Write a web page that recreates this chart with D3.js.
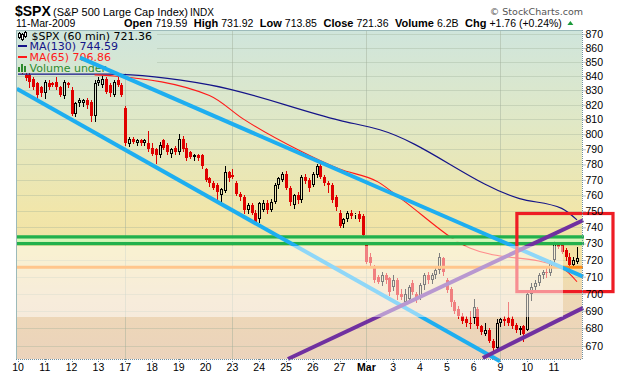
<!DOCTYPE html>
<html>
<head>
<meta charset="utf-8">
<script src="https://cdn.jsdelivr.net/npm/d3@7"></script>
<style>
body { margin: 0; background: #fff; }
</style>
</head>
<body>
<div id="chart"></div>
<script>
// one label per trading day, first bar of the day
var dayLabels = ["10", "11", "12", "13", "17", "18", "19", "20", "23", "24", "25", "26", "27",
    "Mar", "3", "4", "5", "6", "9", "10", "11"];
var gridDays = [4, 8, 13, 18];
var yTicks = [670, 680, 690, 700, 710, 720, 730, 740, 750, 760, 770, 780, 790, 800,
    810, 820, 830, 840, 850, 860, 870];

// 60 min bars, 7 per day
var opens = [
    866, 864, 841, 841, 838, 835, 832,
    828, 835, 835, 836, 832, 826, 835,
    830, 814, 821, 821, 823, 822, 812,
    835, 834, 838, 834, 827, 837, 834,
    818, 793.5, 797, 794, 796, 794, 794,
    791, 790, 786, 796, 793, 787, 791,
    788, 797, 791, 788, 785, 786, 786,
    777, 771, 768, 767, 760, 763, 775,
    773, 768, 761, 759, 751, 754, 749,
    745, 751, 755, 751, 756, 767, 770,
    774, 765, 754, 760, 757, 772, 770,
    767, 773, 779, 772, 768, 767, 759,
    749, 742, 745, 749, 748, 748, 747,
    729, 722, 716, 710, 707, 711, 709,
    704, 708, 700, 695, 697, 706, 700,
    698, 705, 711, 708, 711, 714, 721,
    708, 703, 695, 691, 687, 685, 683,
    686, 691, 681, 677, 679, 673, 669,
    683, 685, 686, 685, 682, 679, 681,
    679, 700, 704, 706, 711, 713, 712,
    720, 730, 729, 726, 722, 717, 719
];
var highs = [
    868, 866, 843, 842, 839, 836, 833,
    837, 837, 836, 839, 833, 837, 836,
    832, 822, 825, 824, 825, 823, 837,
    839, 840, 839, 835, 837, 839, 835,
    819, 798, 798, 797, 797, 797, 802,
    794, 791, 795, 797, 794, 791, 792,
    800, 799, 794, 789, 787, 787, 787,
    778, 772, 769, 768, 765, 779, 776,
    777, 769, 762, 760, 755, 755, 751,
    756, 757, 757, 758, 768, 772, 775,
    776, 766, 761, 762, 773, 774, 771,
    775, 780, 780, 773, 769, 768, 760,
    751, 746, 750, 751, 749, 750, 748,
    730, 724, 717, 711, 713, 712, 710,
    711, 709, 703, 703, 705, 708, 701,
    706, 712, 713, 712, 716, 724, 722,
    709, 704, 696, 693, 689, 687, 690,
    697, 692, 682, 683, 680, 674, 685,
    686, 687, 695, 687, 683, 681, 682,
    701, 706, 708, 712, 714, 715, 720,
    732, 731, 730, 727, 724, 722, 728
];
var lows = [
    862, 842, 837, 832, 831, 825, 826,
    825, 831, 833, 831, 826, 825, 832,
    813, 812, 819, 819, 818, 809, 809,
    834, 832, 828, 826, 826, 833, 826,
    793, 792, 794, 793, 793, 793, 789,
    786, 781, 785, 790, 787, 785, 787,
    787, 789, 783, 784, 783, 783, 778,
    769, 766, 764, 758, 756, 762, 769,
    771, 760, 757, 749, 749, 748, 742,
    743, 750, 749, 750, 755, 765, 769,
    764, 754, 752, 755, 756, 768, 763,
    766, 772, 771, 767, 762, 756, 751,
    740, 740, 744, 746, 746, 744, 734,
    718, 716, 707, 706, 705, 706, 699,
    702, 697, 697, 694, 696, 700, 695,
    697, 703, 706, 706, 709, 712, 711,
    701, 693, 689, 686, 683, 681, 680,
    683, 680, 677, 676, 672, 667, 667,
    681, 682, 682, 680, 678, 677, 673,
    679, 696, 701, 705, 709, 710, 711,
    719, 727, 724, 720, 714, 716, 718
];
var closes = [
    864, 845, 838.5, 836, 832, 827, 828,
    836, 832, 834, 832, 827, 836, 833.5,
    814, 821, 823, 823, 820, 812, 835,
    837, 838, 829, 828, 836, 834, 827,
    794, 797, 795, 796, 794, 796, 790,
    787, 786.5, 793, 791, 788, 790, 788,
    797, 790, 784, 785, 786, 784.5, 779,
    770, 768, 765, 762, 764, 775, 771,
    772, 761, 759, 751, 754, 749, 743.5,
    755, 755, 751, 756, 767, 771, 773.5,
    765, 756, 760, 757, 772, 769, 764.5,
    774, 779, 772, 768, 767, 757, 752.8,
    741, 745, 749, 747, 748.5, 745, 735,
    719, 718, 708, 707, 711, 708, 701,
    708, 699, 698, 700, 704, 701, 696.5,
    705, 711, 708, 711, 714, 722, 713,
    702, 695, 690, 687, 684, 683, 682.5,
    692, 681, 678, 679, 673, 669, 683,
    685, 684, 683, 681, 679, 680, 676.5,
    700, 704, 706, 711, 713, 712, 719.5,
    730, 728, 725, 722, 717, 720, 721.4
];

// moving averages as [bar, value]
var ma130 = [[0, 841.3], [24, 841.3], [50, 833.8], [84, 809.4], [94.5, 803], [131, 758], [142, 751.8], [146, 744.6]];
var ma65 = [[20, 840.8], [25, 840], [50, 826.4], [59, 810], [73, 789.8], [84, 777], [94, 768.7], [100, 758], [118, 727.3], [142, 715.3], [146, 707]];

// hand drawn trend lines [bar, price]
var cyanLines = [[[16.2, 853], [147.6, 710]], [[-0.3, 831], [125.9, 661.5]]];
var purpleLines = [[[70.5, 662.7], [147.6, 744.4]], [[121.4, 663.3], [147.6, 691.7]]];
var greenLevels = [734, 730];
var orangeLevel = 715.6;
var redBox = [[130.3, 748.6], [155.4, 701.2]];

var width = 620;
var height = 376;
var plotL = 16, plotR = 582, plotT = 30, plotB = 359;

var svg = d3.select("#chart")
    .append("svg")
    .attr("width", width)
    .attr("height", height)
    .style("font-family", "'Liberation Sans', Arial, sans-serif");

var x = d3.scaleLinear().domain([0, 146]).range([18, 577]);
var y = d3.scaleLog().domain([662.7, 873]).range([plotB, plotT]);

var defs = svg.append("defs");
var grad = defs.append("linearGradient")
    .attr("id", "bgGrad")
    .attr("gradientUnits", "userSpaceOnUse")
    .attr("x1", 0).attr("y1", plotT).attr("x2", 0).attr("y2", plotB);
[[0, "#cfe5dc"], [0.28, "#e0e8c6"], [0.55, "#f1e6aa"], [0.68, "#f2e2a4"], [0.82, "#eed8b6"], [1, "#ebd3bc"]]
    .forEach(function(s) {
        grad.append("stop").attr("offset", s[0]).attr("stop-color", s[1]);
    });

svg.append("rect")
    .attr("x", plotL).attr("y", plotT)
    .attr("width", plotR - plotL).attr("height", plotB - plotT)
    .attr("fill", "url(#bgGrad)");

// grid
var grid = svg.append("g").attr("shape-rendering", "crispEdges");
yTicks.forEach(function(t) {
    grid.append("line")
        .attr("x1", plotL).attr("x2", plotR)
        .attr("y1", Math.round(y(t)) + 0.5).attr("y2", Math.round(y(t)) + 0.5)
        .attr("stroke", "#9fae98").attr("stroke-opacity", 0.35);
});
gridDays.forEach(function(d) {
    var gx = Math.round(x(d * 7)) + 0.5;
    grid.append("line")
        .attr("x1", gx).attr("x2", gx)
        .attr("y1", plotT).attr("y2", plotB)
        .attr("stroke", "#9fae98").attr("stroke-opacity", 0.45);
});

// candles
var candles = svg.append("g").attr("shape-rendering", "crispEdges");
opens.forEach(function(o, i) {
    var c = closes[i];
    var cx = Math.round(x(i));
    var up = c >= o;
    var col = up ? "#000" : "#e00000";
    var yt = y(Math.max(o, c)), yb = y(Math.min(o, c));
    var b0 = Math.round(yt), b1 = Math.max(Math.round(yb), b0 + 1);
    candles.append("line")
        .attr("x1", cx + 0.5).attr("x2", cx + 0.5)
        .attr("y1", Math.round(y(highs[i]))).attr("y2", b0)
        .attr("stroke", col);
    candles.append("line")
        .attr("x1", cx + 0.5).attr("x2", cx + 0.5)
        .attr("y1", b1).attr("y2", Math.round(y(lows[i])) + 1)
        .attr("stroke", col);
    if (up) {
        candles.append("rect")
            .attr("x", cx - 0.5).attr("y", b0 + 0.5)
            .attr("width", 2).attr("height", Math.max(b1 - b0 - 1, 0))
            .attr("fill", "none").attr("stroke", col);
    } else {
        candles.append("rect")
            .attr("x", cx - 1).attr("y", b0)
            .attr("width", 3).attr("height", b1 - b0)
            .attr("fill", col);
    }
});

var maLine = d3.line()
    .x(function(d) { return x(d[0]); })
    .y(function(d) { return y(d[1]); })
    .curve(d3.curveMonotoneX);

svg.append("path").datum(ma130)
    .attr("d", maLine).attr("fill", "none")
    .attr("stroke", "#141488").attr("stroke-width", 1.2);
svg.append("path").datum(ma65)
    .attr("d", maLine).attr("fill", "none")
    .attr("stroke", "#ff1a1a").attr("stroke-width", 1.1);

// legend sits on its own background
var lg = svg.append("g");
lg.append("rect")
    .attr("x", plotL + 1).attr("y", plotT + 1)
    .attr("width", 140).attr("height", 42)
    .attr("fill", "url(#bgGrad)");
[[18, 33, 38], [21, 34, 40], [24, 32, 37]].forEach(function(k) {
    lg.append("line").attr("x1", k[0] + 1.5).attr("x2", k[0] + 1.5)
        .attr("y1", k[1] - 1).attr("y2", k[2] + 1).attr("stroke", "#000");
    lg.append("rect").attr("x", k[0] + 0.5).attr("y", k[1] + 0.5)
        .attr("width", 2).attr("height", k[2] - k[1] - 1)
        .attr("fill", "#fff").attr("stroke", "#000");
});
var legendRows = [
    ["$SPX (60 min) 721.36", "#000", 39.5],
    ["MA(130) 744.59", "#141488", 50],
    ["MA(65) 706.86", "#ff1a1a", 61],
    ["Volume under", "#2e8b2e", 71.5]
];
legendRows.forEach(function(r, i) {
    lg.append("text")
        .attr("x", i == 0 ? 31.5 : 29.5).attr("y", r[2])
        .attr("fill", r[1])
        .style("font-family", "'DejaVu Sans', Verdana, sans-serif")
        .style("font-size", "11px")
        .text(r[0]);
    if (i == 1 || i == 2) {
        lg.append("line").attr("x1", 18).attr("x2", 27)
            .attr("y1", r[2] - 4).attr("y2", r[2] - 4)
            .attr("stroke", r[1]).attr("stroke-width", 2);
    }
});
[[18, 67], [21, 64], [24, 66]].forEach(function(k) {
    lg.append("rect").attr("x", k[0]).attr("y", k[1])
        .attr("width", 2).attr("height", 72 - k[1]).attr("fill", "#2e8b2e");
});

// annotations
greenLevels.forEach(function(v) {
    svg.append("line")
        .attr("x1", plotL).attr("x2", plotR + 2)
        .attr("y1", y(v)).attr("y2", y(v))
        .attr("stroke", "#22b14c").attr("stroke-width", 3.4);
});
svg.append("rect")
    .attr("x", plotL).attr("y", y(greenLevels[0]) + 1.7)
    .attr("width", plotR + 2 - plotL).attr("height", y(greenLevels[1]) - y(greenLevels[0]) - 3.4)
    .attr("fill", "#d2f7b8");
svg.append("line")
    .attr("x1", plotL).attr("x2", plotR + 1)
    .attr("y1", y(orangeLevel)).attr("y2", y(orangeLevel))
    .attr("stroke", "#ff8c1a").attr("stroke-width", 3);

var segLine = d3.line()
    .x(function(d) { return x(d[0]); })
    .y(function(d) { return y(d[1]); });
cyanLines.forEach(function(l) {
    svg.append("path").datum(l).attr("d", segLine)
        .attr("stroke", "#1eaef0").attr("stroke-width", 4).attr("fill", "none");
});
purpleLines.forEach(function(l) {
    svg.append("path").datum(l).attr("d", segLine)
        .attr("stroke", "#7030a0").attr("stroke-width", 4).attr("fill", "none");
});
svg.append("rect")
    .attr("x", x(redBox[0][0])).attr("y", y(redBox[0][1]))
    .attr("width", x(redBox[1][0]) - x(redBox[0][0]))
    .attr("height", y(redBox[1][1]) - y(redBox[0][1]))
    .attr("fill", "none").attr("stroke", "#ee1c24").attr("stroke-width", 3.2);

// pale banner from the image host, laid over everything
svg.append("rect")
    .attr("x", 0).attr("y", 246).attr("width", 563).attr("height", 71)
    .attr("fill", "#fff").attr("fill-opacity", 0.5);

// frame and axes
var frame = svg.append("g").attr("shape-rendering", "crispEdges");
frame.append("line").attr("x1", plotL + 0.5).attr("x2", plotL + 0.5)
    .attr("y1", plotT).attr("y2", plotB).attr("stroke", "#9cbaba");
frame.append("line").attr("x1", plotL).attr("x2", plotR)
    .attr("y1", plotT + 0.5).attr("y2", plotT + 0.5).attr("stroke", "#9cbaba");
frame.append("line").attr("x1", plotR + 0.5).attr("x2", plotR + 0.5)
    .attr("y1", plotT).attr("y2", plotB + 1).attr("stroke", "#6f8fa0").attr("stroke-dasharray", "1,1");
frame.append("line").attr("x1", plotL).attr("x2", plotR)
    .attr("y1", plotB + 0.5).attr("y2", plotB + 0.5).attr("stroke", "#6f8fa0").attr("stroke-dasharray", "1,1");

var yAxis = d3.axisRight(y).tickValues(yTicks).tickSize(3).tickFormat(d3.format("d"));
var ya = svg.append("g").attr("transform", "translate(" + (plotR + 0.5) + ",0)").call(yAxis);
ya.select(".domain").remove();
ya.selectAll("line").attr("stroke", "#6f8fa0").attr("stroke-dasharray", "1,1");
ya.selectAll("text")
    .attr("x", 3).attr("fill", "#000")
    .style("font-family", "'Liberation Sans', Arial, sans-serif").style("font-size", "10.5px");

var xa = svg.append("g");
dayLabels.forEach(function(t, d) {
    var lx = x(d * 7);
    xa.append("line").attr("x1", Math.round(lx) + 0.5).attr("x2", Math.round(lx) + 0.5)
        .attr("y1", plotB).attr("y2", plotB + 3)
        .attr("stroke", "#6f8fa0").attr("stroke-dasharray", "1,1");
    xa.append("text")
        .attr("x", lx).attr("y", 371)
        .attr("text-anchor", "middle")
        .style("font-size", "10.5px")
        .style("font-weight", t == "Mar" ? "bold" : "normal")
        .text(t);
});

// header
svg.append("text").attr("x", 15).attr("y", 16)
    .style("font-size", "14px").style("font-weight", "bold").text("$SPX");
svg.append("text").attr("x", 53).attr("y", 16)
    .style("font-size", "11px").text("(S&P 500 Large Cap Index)");
svg.append("text").attr("x", 190).attr("y", 16)
    .style("font-size", "10px").text("INDX");
svg.append("text").attr("x", 16).attr("y", 27)
    .style("font-size", "10.5px").text("11-Mar-2009");
svg.append("text").attr("x", 583).attr("y", 15)
    .attr("text-anchor", "end").attr("fill", "#555")
    .style("font-family", "'DejaVu Sans', Verdana, sans-serif")
    .style("font-size", "9.5px").text("\u00a9 StockCharts.com");

var quote = [["Open", "719.59"], ["High", "731.92"], ["Low", "713.85"], ["Close", "721.36"],
    ["Volume", "6.2B"], ["Chg", "+1.76 (+0.24%)"]];
var qx = 124;
quote.forEach(function(q) {
    var a = svg.append("text").attr("x", qx).attr("y", 27)
        .style("font-size", "11px").style("font-weight", "bold").text(q[0]);
    qx += a.node().getComputedTextLength() + 3;
    var b = svg.append("text").attr("x", qx).attr("y", 27)
        .style("font-size", "10.5px").text(q[1]);
    qx += b.node().getComputedTextLength() + 6.5;
});
svg.append("path")
    .attr("d", "M" + (qx - 1) + ",25 l3,-4 l3,4 z")
    .attr("fill", "#1a9a3a");
</script>
</body>
</html>
